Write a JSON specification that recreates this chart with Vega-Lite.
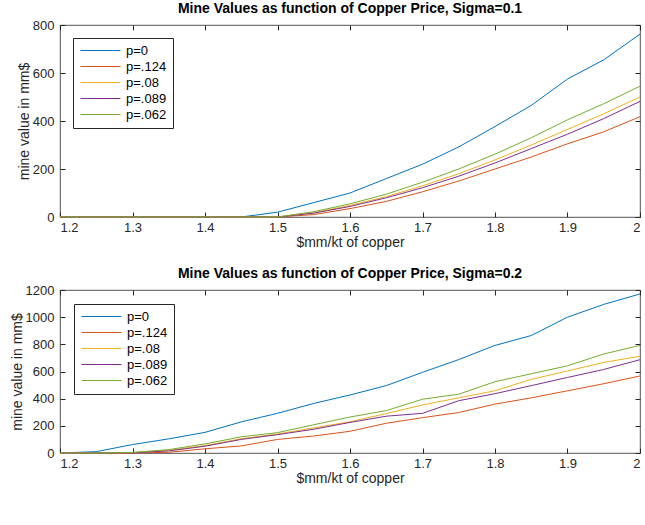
{
  "$schema": "https://vega.github.io/schema/vega-lite/v6.json",
  "padding": {"left": 9, "top": 1, "right": 0, "bottom": 0},
  "spacing": 16,
  "config": {
    "font": "Liberation Sans",
    "view": {"stroke": "#262626", "strokeWidth": 0.8},
    "axis": {"domain": false, "grid": false, "tickColor": "#262626", "tickSize": -5, "labelFontSize": 13, "labelColor": "#262626", "titleFontSize": 14, "titleFontWeight": "normal", "titleColor": "#262626", "labelPadding": 9, "titlePadding": 1},
    "axisY": {"labelPadding": 11},
    "title": {"fontSize": 14, "fontWeight": "bold", "color": "#000000", "offset": 3},
    "legend": {"orient": "top-left", "offset": 13, "strokeColor": "#262626", "fillColor": "white", "padding": 6, "symbolType": "M-4,0H4", "symbolSize": 100, "symbolOffset": 15, "symbolStrokeWidth": 1, "labelFontSize": 13, "labelColor": "#000000", "labelOffset": 19, "rowPadding": 2, "title": null}
  },
  "datasets": {
    "d": [
      {"s":1,"p":"p=0","x":1.2,"v":0},{"s":1,"p":"p=0","x":1.25,"v":0},{"s":1,"p":"p=0","x":1.3,"v":0},{"s":1,"p":"p=0","x":1.35,"v":0},{"s":1,"p":"p=0","x":1.4,"v":0},{"s":1,"p":"p=0","x":1.45,"v":0},{"s":1,"p":"p=0","x":1.5,"v":20},{"s":1,"p":"p=0","x":1.55,"v":60},{"s":1,"p":"p=0","x":1.6,"v":100},{"s":1,"p":"p=0","x":1.65,"v":160},{"s":1,"p":"p=0","x":1.7,"v":220},{"s":1,"p":"p=0","x":1.75,"v":292},{"s":1,"p":"p=0","x":1.8,"v":377},{"s":1,"p":"p=0","x":1.85,"v":465},{"s":1,"p":"p=0","x":1.9,"v":575},{"s":1,"p":"p=0","x":1.95,"v":655},{"s":1,"p":"p=0","x":2.0,"v":762},
      {"s":1,"p":"p=.124","x":1.2,"v":0},{"s":1,"p":"p=.124","x":1.25,"v":0},{"s":1,"p":"p=.124","x":1.3,"v":0},{"s":1,"p":"p=.124","x":1.35,"v":0},{"s":1,"p":"p=.124","x":1.4,"v":0},{"s":1,"p":"p=.124","x":1.45,"v":0},{"s":1,"p":"p=.124","x":1.5,"v":0},{"s":1,"p":"p=.124","x":1.55,"v":10},{"s":1,"p":"p=.124","x":1.6,"v":35},{"s":1,"p":"p=.124","x":1.65,"v":65},{"s":1,"p":"p=.124","x":1.7,"v":105},{"s":1,"p":"p=.124","x":1.75,"v":150},{"s":1,"p":"p=.124","x":1.8,"v":200},{"s":1,"p":"p=.124","x":1.85,"v":250},{"s":1,"p":"p=.124","x":1.9,"v":305},{"s":1,"p":"p=.124","x":1.95,"v":355},{"s":1,"p":"p=.124","x":2.0,"v":418},
      {"s":1,"p":"p=.08","x":1.2,"v":0},{"s":1,"p":"p=.08","x":1.25,"v":0},{"s":1,"p":"p=.08","x":1.3,"v":0},{"s":1,"p":"p=.08","x":1.35,"v":0},{"s":1,"p":"p=.08","x":1.4,"v":0},{"s":1,"p":"p=.08","x":1.45,"v":0},{"s":1,"p":"p=.08","x":1.5,"v":0},{"s":1,"p":"p=.08","x":1.55,"v":18},{"s":1,"p":"p=.08","x":1.6,"v":48},{"s":1,"p":"p=.08","x":1.65,"v":85},{"s":1,"p":"p=.08","x":1.7,"v":130},{"s":1,"p":"p=.08","x":1.75,"v":180},{"s":1,"p":"p=.08","x":1.8,"v":238},{"s":1,"p":"p=.08","x":1.85,"v":300},{"s":1,"p":"p=.08","x":1.9,"v":365},{"s":1,"p":"p=.08","x":1.95,"v":430},{"s":1,"p":"p=.08","x":2.0,"v":500},
      {"s":1,"p":"p=.089","x":1.2,"v":0},{"s":1,"p":"p=.089","x":1.25,"v":0},{"s":1,"p":"p=.089","x":1.3,"v":0},{"s":1,"p":"p=.089","x":1.35,"v":0},{"s":1,"p":"p=.089","x":1.4,"v":0},{"s":1,"p":"p=.089","x":1.45,"v":0},{"s":1,"p":"p=.089","x":1.5,"v":0},{"s":1,"p":"p=.089","x":1.55,"v":16},{"s":1,"p":"p=.089","x":1.6,"v":44},{"s":1,"p":"p=.089","x":1.65,"v":80},{"s":1,"p":"p=.089","x":1.7,"v":122},{"s":1,"p":"p=.089","x":1.75,"v":170},{"s":1,"p":"p=.089","x":1.8,"v":225},{"s":1,"p":"p=.089","x":1.85,"v":285},{"s":1,"p":"p=.089","x":1.9,"v":345},{"s":1,"p":"p=.089","x":1.95,"v":410},{"s":1,"p":"p=.089","x":2.0,"v":482},
      {"s":1,"p":"p=.062","x":1.2,"v":0},{"s":1,"p":"p=.062","x":1.25,"v":0},{"s":1,"p":"p=.062","x":1.3,"v":0},{"s":1,"p":"p=.062","x":1.35,"v":0},{"s":1,"p":"p=.062","x":1.4,"v":0},{"s":1,"p":"p=.062","x":1.45,"v":0},{"s":1,"p":"p=.062","x":1.5,"v":0},{"s":1,"p":"p=.062","x":1.55,"v":22},{"s":1,"p":"p=.062","x":1.6,"v":55},{"s":1,"p":"p=.062","x":1.65,"v":95},{"s":1,"p":"p=.062","x":1.7,"v":145},{"s":1,"p":"p=.062","x":1.75,"v":200},{"s":1,"p":"p=.062","x":1.8,"v":262},{"s":1,"p":"p=.062","x":1.85,"v":330},{"s":1,"p":"p=.062","x":1.9,"v":405},{"s":1,"p":"p=.062","x":1.95,"v":472},{"s":1,"p":"p=.062","x":2.0,"v":545},
      {"s":2,"p":"p=0","x":1.2,"v":0},{"s":2,"p":"p=0","x":1.25,"v":10},{"s":2,"p":"p=0","x":1.3,"v":62},{"s":2,"p":"p=0","x":1.35,"v":104},{"s":2,"p":"p=0","x":1.4,"v":152},{"s":2,"p":"p=0","x":1.45,"v":229},{"s":2,"p":"p=0","x":1.5,"v":292},{"s":2,"p":"p=0","x":1.55,"v":365},{"s":2,"p":"p=0","x":1.6,"v":427},{"s":2,"p":"p=0","x":1.65,"v":496},{"s":2,"p":"p=0","x":1.7,"v":594},{"s":2,"p":"p=0","x":1.75,"v":688},{"s":2,"p":"p=0","x":1.8,"v":792},{"s":2,"p":"p=0","x":1.85,"v":865},{"s":2,"p":"p=0","x":1.9,"v":1000},{"s":2,"p":"p=0","x":1.95,"v":1094},{"s":2,"p":"p=0","x":2.0,"v":1171},
      {"s":2,"p":"p=.124","x":1.2,"v":0},{"s":2,"p":"p=.124","x":1.25,"v":0},{"s":2,"p":"p=.124","x":1.3,"v":0},{"s":2,"p":"p=.124","x":1.35,"v":5},{"s":2,"p":"p=.124","x":1.4,"v":31},{"s":2,"p":"p=.124","x":1.45,"v":52},{"s":2,"p":"p=.124","x":1.5,"v":100},{"s":2,"p":"p=.124","x":1.55,"v":125},{"s":2,"p":"p=.124","x":1.6,"v":160},{"s":2,"p":"p=.124","x":1.65,"v":219},{"s":2,"p":"p=.124","x":1.7,"v":260},{"s":2,"p":"p=.124","x":1.75,"v":298},{"s":2,"p":"p=.124","x":1.8,"v":360},{"s":2,"p":"p=.124","x":1.85,"v":406},{"s":2,"p":"p=.124","x":1.9,"v":458},{"s":2,"p":"p=.124","x":1.95,"v":510},{"s":2,"p":"p=.124","x":2.0,"v":567},
      {"s":2,"p":"p=.08","x":1.2,"v":0},{"s":2,"p":"p=.08","x":1.25,"v":0},{"s":2,"p":"p=.08","x":1.3,"v":3},{"s":2,"p":"p=.08","x":1.35,"v":20},{"s":2,"p":"p=.08","x":1.4,"v":55},{"s":2,"p":"p=.08","x":1.45,"v":105},{"s":2,"p":"p=.08","x":1.5,"v":140},{"s":2,"p":"p=.08","x":1.55,"v":185},{"s":2,"p":"p=.08","x":1.6,"v":230},{"s":2,"p":"p=.08","x":1.65,"v":290},{"s":2,"p":"p=.08","x":1.7,"v":354},{"s":2,"p":"p=.08","x":1.75,"v":406},{"s":2,"p":"p=.08","x":1.8,"v":458},{"s":2,"p":"p=.08","x":1.85,"v":542},{"s":2,"p":"p=.08","x":1.9,"v":604},{"s":2,"p":"p=.08","x":1.95,"v":667},{"s":2,"p":"p=.08","x":2.0,"v":712},
      {"s":2,"p":"p=.089","x":1.2,"v":0},{"s":2,"p":"p=.089","x":1.25,"v":0},{"s":2,"p":"p=.089","x":1.3,"v":2},{"s":2,"p":"p=.089","x":1.35,"v":15},{"s":2,"p":"p=.089","x":1.4,"v":50},{"s":2,"p":"p=.089","x":1.45,"v":100},{"s":2,"p":"p=.089","x":1.5,"v":135},{"s":2,"p":"p=.089","x":1.55,"v":175},{"s":2,"p":"p=.089","x":1.6,"v":225},{"s":2,"p":"p=.089","x":1.65,"v":271},{"s":2,"p":"p=.089","x":1.7,"v":292},{"s":2,"p":"p=.089","x":1.75,"v":385},{"s":2,"p":"p=.089","x":1.8,"v":437},{"s":2,"p":"p=.089","x":1.85,"v":496},{"s":2,"p":"p=.089","x":1.9,"v":556},{"s":2,"p":"p=.089","x":1.95,"v":615},{"s":2,"p":"p=.089","x":2.0,"v":687},
      {"s":2,"p":"p=.062","x":1.2,"v":0},{"s":2,"p":"p=.062","x":1.25,"v":0},{"s":2,"p":"p=.062","x":1.3,"v":4},{"s":2,"p":"p=.062","x":1.35,"v":25},{"s":2,"p":"p=.062","x":1.4,"v":67},{"s":2,"p":"p=.062","x":1.45,"v":119},{"s":2,"p":"p=.062","x":1.5,"v":150},{"s":2,"p":"p=.062","x":1.55,"v":208},{"s":2,"p":"p=.062","x":1.6,"v":265},{"s":2,"p":"p=.062","x":1.65,"v":312},{"s":2,"p":"p=.062","x":1.7,"v":396},{"s":2,"p":"p=.062","x":1.75,"v":433},{"s":2,"p":"p=.062","x":1.8,"v":525},{"s":2,"p":"p=.062","x":1.85,"v":583},{"s":2,"p":"p=.062","x":1.9,"v":642},{"s":2,"p":"p=.062","x":1.95,"v":729},{"s":2,"p":"p=.062","x":2.0,"v":792}
    ]
  },
  "vconcat": [
    {
      "title": "Mine Values as function of Copper Price, Sigma=0.1",
      "width": 580,
      "height": 192,
      "data": {"name": "d"},
      "transform": [{"filter": "datum.s == 1"}],
      "resolve": {"axis": {"x": "independent", "y": "independent"}},
      "layer": [
        {
          "mark": {"type": "line", "strokeWidth": 1},
          "encoding": {
            "x": {"field": "x", "type": "quantitative", "scale": {"domain": [1.2, 2], "nice": false}, "axis": {"title": "$mm/kt of copper", "values": [1.2,1.3,1.4,1.5,1.6,1.7,1.8,1.9,2], "format": "~g"}},
            "y": {"field": "v", "type": "quantitative", "scale": {"domain": [0, 800], "nice": false}, "axis": {"title": "mine value in mm$", "values": [0,200,400,600,800], "format": "d"}},
            "color": {"field": "p", "type": "nominal", "sort": null, "scale": {"domain": ["p=0","p=.124","p=.08","p=.089","p=.062"], "range": ["#0072BD","#D95319","#EDB120","#7E2F8E","#77AC30"]}}
          }
        },
        {
          "mark": {"type": "line", "opacity": 0},
          "encoding": {
            "x": {"field": "x", "type": "quantitative", "axis": {"orient": "top", "title": null, "labels": false, "values": [1.2,1.3,1.4,1.5,1.6,1.7,1.8,1.9,2]}},
            "y": {"field": "v", "type": "quantitative", "axis": {"orient": "right", "title": null, "labels": false, "values": [0,200,400,600,800]}},
            "detail": {"field": "p"}
          }
        }
      ]
    },
    {
      "title": "Mine Values as function of Copper Price, Sigma=0.2",
      "width": 580,
      "height": 163,
      "data": {"name": "d"},
      "transform": [{"filter": "datum.s == 2"}],
      "resolve": {"axis": {"x": "independent", "y": "independent"}},
      "layer": [
        {
          "mark": {"type": "line", "strokeWidth": 1},
          "encoding": {
            "x": {"field": "x", "type": "quantitative", "scale": {"domain": [1.2, 2], "nice": false}, "axis": {"title": "$mm/kt of copper", "values": [1.2,1.3,1.4,1.5,1.6,1.7,1.8,1.9,2], "format": "~g"}},
            "y": {"field": "v", "type": "quantitative", "scale": {"domain": [0, 1200], "nice": false}, "axis": {"title": "mine value in mm$", "values": [0,200,400,600,800,1000,1200], "format": "d"}},
            "color": {"field": "p", "type": "nominal", "sort": null, "scale": {"domain": ["p=0","p=.124","p=.08","p=.089","p=.062"], "range": ["#0072BD","#D95319","#EDB120","#7E2F8E","#77AC30"]}, "legend": {"offset": 13.5}}
          }
        },
        {
          "mark": {"type": "line", "opacity": 0},
          "encoding": {
            "x": {"field": "x", "type": "quantitative", "axis": {"orient": "top", "title": null, "labels": false, "values": [1.2,1.3,1.4,1.5,1.6,1.7,1.8,1.9,2]}},
            "y": {"field": "v", "type": "quantitative", "axis": {"orient": "right", "title": null, "labels": false, "values": [0,200,400,600,800,1000,1200]}},
            "detail": {"field": "p"}
          }
        }
      ]
    }
  ],
  "resolve": {"scale": {"color": "independent"}}
}
